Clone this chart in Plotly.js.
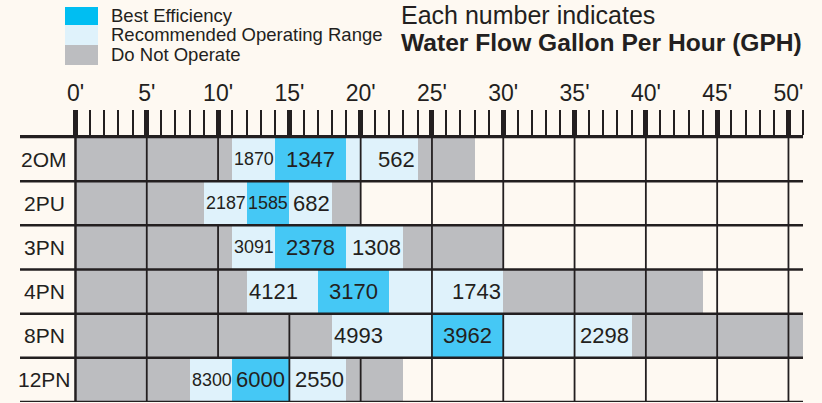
<!DOCTYPE html>
<html>
<head>
<meta charset="utf-8">
<script src="https://cdn.plot.ly/plotly-3.0.1.min.js"></script>
<style>
  html, body { margin: 0; padding: 0; background: #fef9f2; }
  #chart { width: 822px; height: 403px; }
</style>
</head>
<body>
<div id="chart"></div>
<script>
// ---------------- DATA ----------------
const rowNames  = ['2OM', '2PU', '3PN', '4PN', '8PN', '12PN'];
const recStart  = [11, 9, 11, 12, 18, 8];    // end of left "Do Not Operate" / start of recommended range (ft)
const bestStart = [14, 12, 14, 17, 25, 11];  // start of best efficiency (ft)
const bestEnd   = [19, 15, 19, 22, 30, 15];  // end of best efficiency (ft)
const recEnd    = [24, 18, 23, 30, 39, 19];  // end of recommended range (ft)
const noOpEnd   = [28, 20, 30, 44, 51, 23];  // end of right "Do Not Operate" band (ft)
const gphHigh   = [1870, 2187, 3091, 4121, 4993, 8300];
const gphBest   = [1347, 1585, 2378, 3170, 3962, 6000];
const gphLow    = [562, 682, 1308, 1743, 2298, 2550];
const depthTickVals = [0, 5, 10, 15, 20, 25, 30, 35, 40, 45, 50];
const depthTickText = ["0'", "5'", "10'", "15'", "20'", "25'", "30'", "35'", "40'", "45'", "50'"];
const legendLabels = ['Best Efficiency', 'Recommended Operating Range', 'Do Not Operate'];
const titleLine1 = 'Each number indicates';
const titleLine2 = 'Water Flow Gallon Per Hour (GPH)';

// ---------------- STYLE / LAYOUT CONSTANTS ----------------
const W = 822, H = 403;
const M = { l: 20, r: 19, t: 137, b: 1 };
const X_RANGE = [-3.89, 51.02];
const INK = '#231f20';
const BG = '#fef9f2';
const C_GRAY = '#bcbdc0', C_LIGHT = '#dff2fb', C_BLUE = '#45c8f5', C_LEG_BLUE = '#00bef2';
const plotW = W - M.l - M.r, plotH = H - M.t - M.b;
const pxPerFt = plotW / (X_RANGE[1] - X_RANGE[0]);
const px = v => (v - M.l) / plotW;          // pixel x -> paper x
const py = v => (H - M.b - v) / plotH;      // pixel y -> paper y

const LABEL_SIZE = 22;
const FONT = 'Liberation Sans, Arial, sans-serif';

const idx = rowNames.map((_, i) => i);

// ---------------- TRACES ----------------
const grayTrace = {
  type: 'bar', orientation: 'h', name: legendLabels[2], showlegend: false, hoverinfo: 'skip',
  y: idx.concat(idx),
  base: idx.map(() => 0).concat(recEnd),
  x: recStart.concat(idx.map(i => noOpEnd[i] - recEnd[i])),
  width: 1, marker: { color: C_GRAY, line: { width: 0 } }
};
const lightTrace = {
  type: 'bar', orientation: 'h', name: legendLabels[1], showlegend: false, hoverinfo: 'skip',
  y: idx.concat(idx),
  base: recStart.concat(bestEnd),
  x: idx.map(i => bestStart[i] - recStart[i]).concat(idx.map(i => recEnd[i] - bestEnd[i])),
  width: 1, marker: { color: C_LIGHT, line: { width: 0 } }
};
const blueTrace = {
  type: 'bar', orientation: 'h', name: legendLabels[0], showlegend: false, hoverinfo: 'skip',
  y: idx, base: bestStart, x: idx.map(i => bestEnd[i] - bestStart[i]),
  width: 1, marker: { color: C_BLUE, line: { width: 0 } }
};

// ---------------- LABELS ----------------
const annotations = [];
const labelSpans = idx.map(() => []);
function addValueLabel(r, value, cellStart, cellEnd, align) {
  const txt = String(value);
  const availPx = (cellEnd - cellStart) * pxPerFt;
  const naturalPx = txt.length * 0.556 * LABEL_SIZE;
  const targetPx = Math.min(naturalPx, availPx - 3);
  const size = LABEL_SIZE * targetPx / naturalPx;   // shrink numbers in narrow cells
  const wFt = targetPx / pxPerFt;
  let x, x0;
  if (align === 'left') { x = cellStart + 0.07; x0 = x; }
  else if (align === 'right') { x = cellEnd - 0.1; x0 = x - wFt; }
  else { x = (cellStart + cellEnd) / 2; x0 = x - wFt / 2; }
  labelSpans[r].push([x0, x0 + wFt]);
  annotations.push({
    xref: 'x', yref: 'y', x: x, y: r, text: txt, showarrow: false,
    xanchor: align, align: align, yanchor: 'middle', borderpad: 0,
    font: { family: FONT, size: size, color: INK }
  });
}
idx.forEach(r => {
  addValueLabel(r, gphHigh[r], recStart[r], bestStart[r], 'left');
  addValueLabel(r, gphBest[r], bestStart[r], bestEnd[r], 'center');
  addValueLabel(r, gphLow[r], bestEnd[r], recEnd[r], 'right');
  annotations.push({
    xref: 'paper', yref: 'y', x: px(44), y: r, text: rowNames[r], showarrow: false,
    xanchor: 'center', yanchor: 'middle',
    font: { family: FONT, size: 21, color: INK }
  });
});

// legend + header
const legendColors = [C_LEG_BLUE, C_LIGHT, C_GRAY];
const legendTop = [7, 25, 45], legendBot = [25, 45, 65];
const shapes = [];
legendLabels.forEach((lab, i) => {
  shapes.push({
    type: 'rect', xref: 'paper', yref: 'paper', layer: 'above',
    x0: px(65), x1: px(98), y0: py(legendBot[i]), y1: py(legendTop[i]),
    fillcolor: legendColors[i], line: { width: 0 }
  });
  annotations.push({
    xref: 'paper', yref: 'paper', x: px(109), y: py((legendTop[i] + legendBot[i]) / 2 - 1),
    text: lab, showarrow: false, xanchor: 'left', yanchor: 'middle',
    font: { family: FONT, size: 18.5, color: INK }
  });
});
annotations.push({
  xref: 'paper', yref: 'paper', x: px(399), y: py(14.5), text: titleLine1, showarrow: false,
  xanchor: 'left', yanchor: 'middle', font: { family: FONT, size: 25, color: INK }
});
annotations.push({
  xref: 'paper', yref: 'paper', x: px(399), y: py(42.5), text: '<b>' + titleLine2 + '</b>', showarrow: false,
  xanchor: 'left', yanchor: 'middle', font: { family: FONT, size: 24.6, color: INK }
});

// ---------------- GRID (cell borders) ----------------
idx.forEach(r => {
  depthTickVals.forEach(k => {
    const insideBlue = k > bestStart[r] && k < bestEnd[r];
    const underText = labelSpans[r].some(s => k > s[0] + 0.4 && k < s[1] - 0.4);
    const touchesText = labelSpans[r].some(s => Math.abs(k - s[1]) < 0.2 || Math.abs(k - s[0]) < 0.2);
    if (k !== 0 && (insideBlue || underText || touchesText)) return;
    shapes.push({
      type: 'line', xref: 'x', yref: 'y', layer: 'above',
      x0: k, x1: k, y0: r - 0.5, y1: r + 0.5,
      line: { color: INK, width: k === 0 ? 2.5 : 1.8 }
    });
  });
});
for (let r = 0; r <= rowNames.length; r++) {
  shapes.push({
    type: 'line', xref: 'paper', yref: 'y', layer: 'above',
    x0: 0, x1: 1, y0: r - 0.5, y1: r - 0.5,
    line: { color: INK, width: 2.5 }
  });
}

const minorVals = [];
for (let f = 0; f <= 51; f++) if (f % 5 !== 0) minorVals.push(f);

const layout = {
  width: W, height: H, margin: M,
  paper_bgcolor: BG, plot_bgcolor: BG,
  barmode: 'overlay', bargap: 0, showlegend: false,
  xaxis: {
    range: X_RANGE, side: 'top', showgrid: false, zeroline: false,
    showline: true, linecolor: INK, linewidth: 2,
    tickmode: 'array', tickvals: depthTickVals, ticktext: depthTickText,
    ticks: 'outside', ticklen: 25, tickwidth: 5, tickcolor: INK,
    tickfont: { family: FONT, size: 23, color: INK },
    minor: { tickmode: 'array', tickvals: minorVals, ticks: 'outside', ticklen: 25, tickwidth: 2, tickcolor: INK, showgrid: false },
    fixedrange: true
  },
  yaxis: {
    range: [rowNames.length - 0.5, -0.5], showticklabels: false, showgrid: false,
    zeroline: false, showline: false, ticks: '', fixedrange: true
  },
  shapes: shapes, annotations: annotations
};

Plotly.newPlot('chart', [grayTrace, lightTrace, blueTrace], layout, { displayModeBar: false, staticPlot: true });
</script>
</body>
</html>
